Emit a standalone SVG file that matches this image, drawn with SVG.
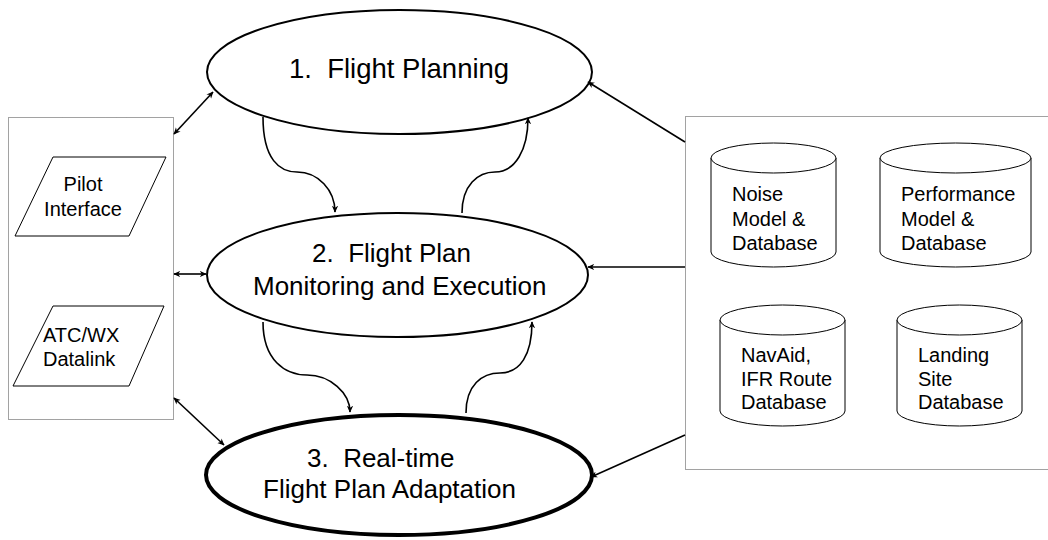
<svg xmlns="http://www.w3.org/2000/svg" width="1048" height="540" viewBox="0 0 1048 540">
<defs>
<marker id="ah" viewBox="0 0 10 10" refX="9" refY="5" markerWidth="7" markerHeight="7" orient="auto-start-reverse" markerUnits="userSpaceOnUse">
<path d="M0,0.5 L10,5 L0,9.5 L3,5 z" fill="#000"/>
</marker>
<style>
text{font-family:"Liberation Sans",Arial,sans-serif;fill:#000}
.big{font-size:26px}
.sm{font-size:20px}
.ell{fill:#fff;stroke:#000;stroke-width:2}
.box{fill:none;stroke:#444;stroke-width:1;stroke-dasharray:1,1}
.shape{fill:#fff;stroke:#000;stroke-width:1}
.con{fill:none;stroke:#000;stroke-width:1.6}
</style>
</defs>
<rect width="1048" height="540" fill="#fff"/>

<g id="left-group">
<rect class="box" x="8.5" y="117.5" width="165" height="302"/>
</g>
<g id="pilot-interface">
<polygon class="shape" points="53,157 166,157 129,236 15,236"/>
<text class="sm" x="83" y="191" text-anchor="middle">Pilot</text>
<text class="sm" x="83" y="216" text-anchor="middle">Interface</text>
</g>
<g id="atc-datalink">
<polygon class="shape" points="53,306 164,306 129,386 13,386"/>
<text class="sm" x="43" y="342">ATC/WX</text>
<text class="sm" x="43" y="366">Datalink</text>
</g>

<g id="right-group">
<rect class="box" x="685.5" y="116.5" width="370" height="353"/>
</g>
<g id="noise-db">
<path class="shape" d="M711,158 A62.5,15 0 0 1 836,158 L836,252 A62.5,15 0 0 1 711,252 Z"/>
<path class="shape" d="M711,158 A62.5,15 0 0 0 836,158"/>
<text class="sm" x="732" y="201">Noise</text>
<text class="sm" x="732" y="226">Model &amp;</text>
<text class="sm" x="732" y="250">Database</text>
</g>
<g id="performance-db">
<path class="shape" d="M880,158 A75.5,15 0 0 1 1031,158 L1031,252 A75.5,15 0 0 1 880,252 Z"/>
<path class="shape" d="M880,158 A75.5,15 0 0 0 1031,158"/>
<text class="sm" x="901" y="201">Performance</text>
<text class="sm" x="901" y="226">Model &amp;</text>
<text class="sm" x="901" y="250">Database</text>
</g>
<g id="navaid-db">
<path class="shape" d="M720,320 A62.5,15 0 0 1 845,320 L845,411 A62.5,15 0 0 1 720,411 Z"/>
<path class="shape" d="M720,320 A62.5,15 0 0 0 845,320"/>
<text class="sm" x="741" y="362">NavAid,</text>
<text class="sm" x="741" y="386">IFR Route</text>
<text class="sm" x="741" y="409">Database</text>
</g>
<g id="landing-db">
<path class="shape" d="M897,320 A62.5,15 0 0 1 1022,320 L1022,411 A62.5,15 0 0 1 897,411 Z"/>
<path class="shape" d="M897,320 A62.5,15 0 0 0 1022,320"/>
<text class="sm" x="918" y="362">Landing</text>
<text class="sm" x="918" y="386">Site</text>
<text class="sm" x="918" y="409">Database</text>
</g>

<g id="flight-planning">
<ellipse class="ell" cx="399.5" cy="72" rx="192.5" ry="62"/>
<text class="big" x="289" y="78" style="font-size:27.5px" xml:space="preserve">1.  Flight Planning</text>
</g>
<g id="monitoring">
<ellipse class="ell" cx="397.5" cy="275" rx="190.5" ry="62"/>
<text class="big" x="312" y="262" xml:space="preserve">2.  Flight Plan</text>
<text class="big" x="253" y="295">Monitoring and Execution</text>
</g>
<g id="adaptation">
<ellipse class="ell" cx="399" cy="475" rx="193" ry="60" style="stroke-width:4"/>
<text class="big" x="307" y="467" xml:space="preserve">3.  Real-time</text>
<text class="big" x="263" y="498">Flight Plan Adaptation</text>
</g>

<g id="connectors">
<path class="con" d="M263,117 C263,160 280,172 297,172 C318,172 335,190 335,212" marker-end="url(#ah)"/>
<path class="con" d="M462,213 C462,185 478,172 495,172 C515,172 528,150 528,118" marker-end="url(#ah)"/>
<path class="con" d="M263,322 C263,360 285,375 307,375 C330,375 350,393 350,412" marker-end="url(#ah)"/>
<path class="con" d="M466,413 C466,385 482,373 500,373 C520,373 532,355 532,322" marker-end="url(#ah)"/>
<line class="con" x1="174" y1="134" x2="213" y2="92" marker-start="url(#ah)" marker-end="url(#ah)"/>
<line class="con" x1="174" y1="274" x2="206" y2="274" marker-start="url(#ah)" marker-end="url(#ah)"/>
<line class="con" x1="174" y1="398" x2="224" y2="445" marker-start="url(#ah)" marker-end="url(#ah)"/>
<line class="con" x1="685" y1="142" x2="588" y2="82" marker-end="url(#ah)"/>
<line class="con" x1="685" y1="267" x2="588" y2="267" marker-end="url(#ah)"/>
<line class="con" x1="685" y1="435" x2="591" y2="477" marker-end="url(#ah)"/>
</g>
</svg>
